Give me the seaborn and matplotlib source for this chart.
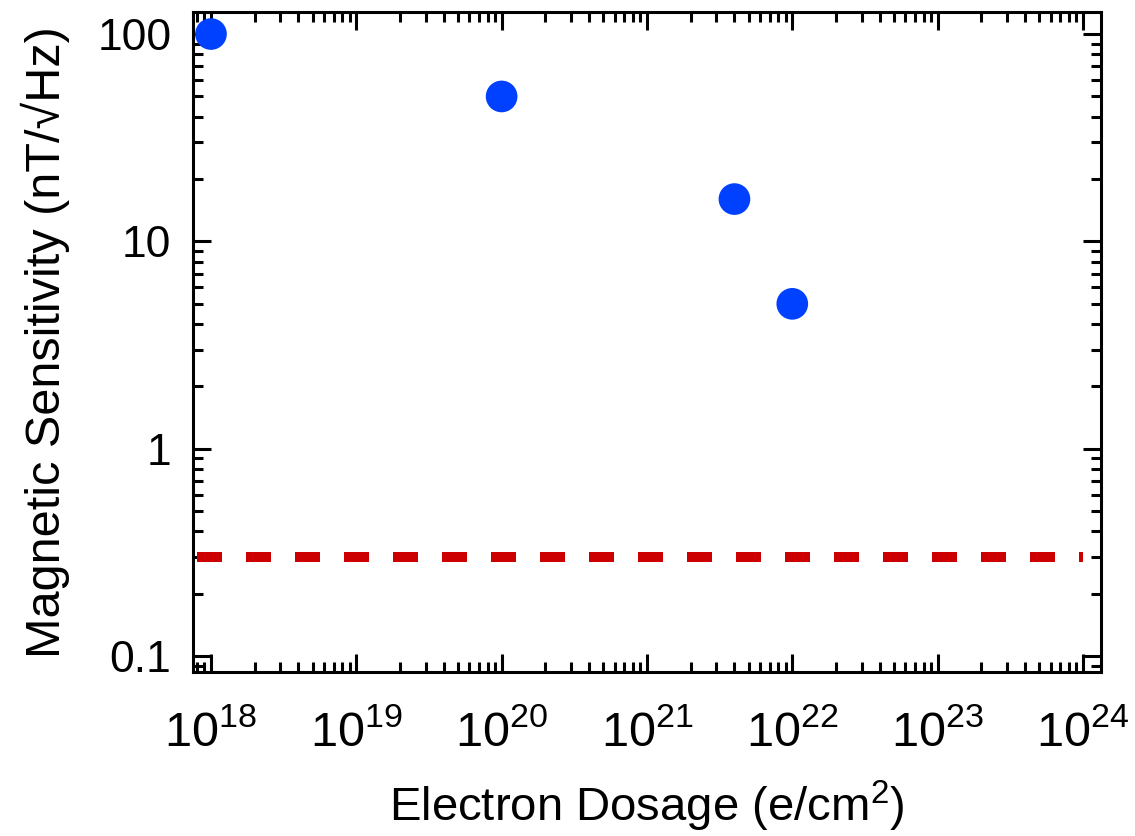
import numpy as np
import pandas as pd
import matplotlib
matplotlib.use("Agg")
import matplotlib.pyplot as plt
import seaborn as sns
from matplotlib.ticker import (LogLocator, FixedLocator, FixedFormatter,
                               NullFormatter, LogFormatterMathtext)

# Sensitivity versus electron irradiation dose
dose = [1e18, 1e20, 4e21, 1e22]
sensitivity = [100, 50, 16, 5]

# Reference sensitivity level (dashed line)
ref_level = 0.3
ref_span = [8e17, 1e24]

x_ticks = [1e18, 1e19, 1e20, 1e21, 1e22, 1e23, 1e24]
y_ticks = [0.1, 1, 10, 100]
y_tick_labels = ["0.1", "1", "10", "100"]

sns.set_style("ticks")
plt.rcParams["font.family"] = ["Liberation Sans", "DejaVu Sans"]
plt.rcParams["mathtext.fontset"] = "custom"
plt.rcParams["mathtext.rm"] = "Liberation Sans"
plt.rcParams["mathtext.it"] = "Liberation Sans:italic"
plt.rcParams["mathtext.bf"] = "Liberation Sans:bold"
for key in ["text.color", "axes.labelcolor", "xtick.color", "ytick.color",
            "axes.edgecolor"]:
    plt.rcParams[key] = "black"

fig = plt.figure(figsize=(11.35, 8.36), dpi=100)
ax = fig.add_axes([0.170, 0.196, 0.800, 0.7896])

df = pd.DataFrame({"dose": dose, "sensitivity": sensitivity})
sns.scatterplot(data=df, x="dose", y="sensitivity", ax=ax, s=520,
                color="#0040ff", edgecolor="none", zorder=3)

lw = 7.2
ax.plot(ref_span, [ref_level, ref_level], color="#cc0000", lw=lw,
        linestyle=(0, (25 * 0.72 / lw, 24 * 0.72 / lw)),
        dash_capstyle="butt", zorder=2)

ax.set_xscale("log")
ax.set_yscale("log")
ax.set_xlim(10 ** 17.876, 10 ** 24.124)
ax.set_ylim(10 ** -1.077, 10 ** 2.106)

ax.xaxis.set_major_locator(FixedLocator(x_ticks))
ax.xaxis.set_major_formatter(LogFormatterMathtext())
ax.xaxis.set_minor_locator(LogLocator(base=10, subs=np.arange(2, 10), numticks=50))
ax.xaxis.set_minor_formatter(NullFormatter())
ax.yaxis.set_major_locator(FixedLocator(y_ticks))
ax.yaxis.set_major_formatter(FixedFormatter(y_tick_labels))
ax.yaxis.set_minor_locator(LogLocator(base=10, subs=np.arange(2, 10), numticks=50))
ax.yaxis.set_minor_formatter(NullFormatter())

for side in ["left", "right", "top", "bottom"]:
    ax.spines[side].set_visible(True)
    ax.spines[side].set_linewidth(2.2)
    ax.spines[side].set_color("black")

ax.tick_params(which="both", direction="in", top=True, right=True,
               color="black", width=2.2)
ax.tick_params(which="major", length=13)
ax.tick_params(which="minor", length=7)
ax.tick_params(axis="x", which="major", pad=27, labelsize=35)
ax.tick_params(axis="y", which="major", pad=15.5, labelsize=32)

ax.set_xlabel("Electron Dosage (e/cm$^2$)", fontsize=34, labelpad=17)
ax.set_ylabel("Magnetic Sensitivity (nT/\u221aHz)", fontsize=35, labelpad=20)

fig.savefig("out.png", dpi=100, facecolor="white")
